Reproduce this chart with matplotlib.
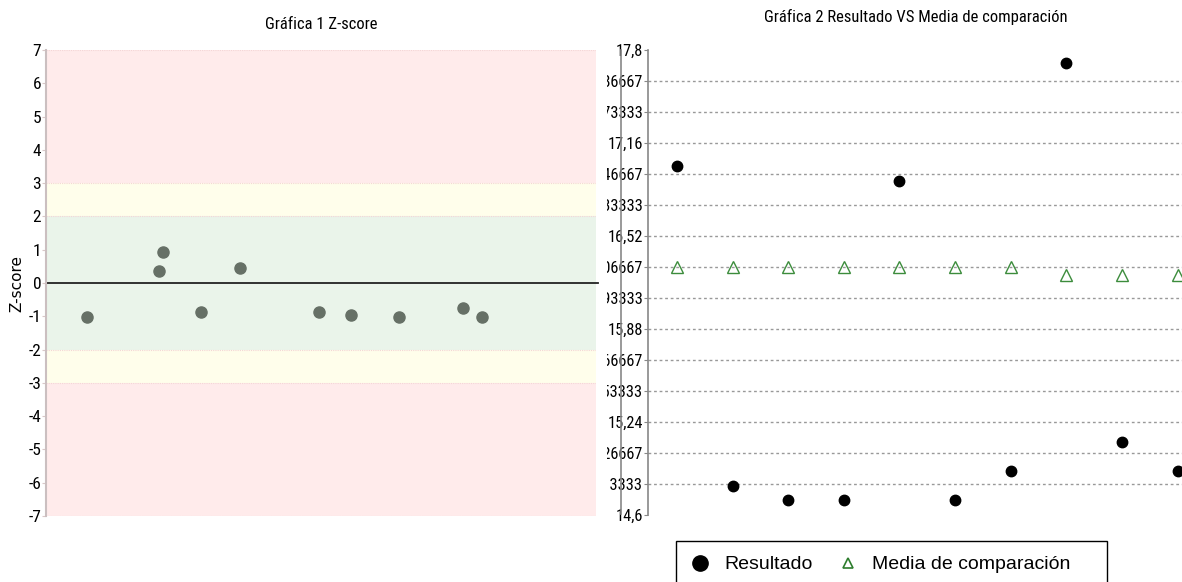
import matplotlib
matplotlib.use("Agg")
import matplotlib.pyplot as plt
from matplotlib import font_manager
from matplotlib.font_manager import FontProperties
from matplotlib.lines import Line2D
from matplotlib.transforms import Bbox, TransformedBbox

# --- data ---
z_x = [7.45, 20.5, 21.2, 28.1, 35.2, 49.6, 55.5, 64.1, 75.8, 79.3]
z_scores = [-1.02, 0.37, 0.92, -0.88, 0.45, -0.88, -0.95, -1.02, -0.75, -1.02]

categories = [1, 2, 3, 4, 5, 6, 7, 8, 9, 10]
resultado = [17.00, 14.80, 14.70, 14.70, 16.90, 14.70, 14.90, 17.71, 15.10, 14.90]
media = [16.31, 16.31, 16.31, 16.31, 16.31, 16.31, 16.31, 16.25, 16.25, 16.25]

z_ticks = list(range(-7, 8))
r_ticks = [14.6 + i * 0.64 / 3 for i in range(16)]


def fmt_tick(v):
    s = "{:.6f}".format(v).rstrip("0").rstrip(".")
    return s.replace(".", ",")


def find_narrow():
    # look for any condensed/narrow regular font file
    prefs = ["liberationsansnarrow-regular", "robotocondensed-regular",
             "opensans_condensed-regular", "opensanscondensed", "dejavusanscondensed.ttf",
             "narrow", "condensed"]
    files = [f.fname for f in font_manager.fontManager.ttflist]
    for p in prefs:
        for fn in files:
            low = fn.lower().replace(" ", "")
            if p in low and "bold" not in low and "italic" not in low and "light" not in low:
                return fn
    return None


narrow_file = find_narrow()


def narrow_font(size):
    if narrow_file:
        return FontProperties(fname=narrow_file, size=size)
    return FontProperties(family="DejaVu Sans", size=size * 0.85)


available = {f.name for f in font_manager.fontManager.ttflist}
arial = "Liberation Sans" if "Liberation Sans" in available else "DejaVu Sans"

W, H = 1182, 582
fig = plt.figure(figsize=(W / 100, H / 100), dpi=100)


def px_axes(x0, x1, ytop, ybot):
    return fig.add_axes([x0 / W, 1 - ybot / H, (x1 - x0) / W, (ybot - ytop) / H])


# --- chart 1: z-score ---
ax1 = px_axes(46, 596, 50, 516)
ax1.set_xlim(0, 100)
ax1.set_ylim(-7, 7)
bands = [(-7, -3, "#ffebeb"), (-3, -2, "#fffeeb"), (-2, 2, "#eaf4ea"),
         (2, 3, "#fffeeb"), (3, 7, "#ffebeb")]
for lo, hi, c in bands:
    ax1.axhspan(lo, hi, color=c, lw=0, zorder=0)
for y in [-7, -3, -2, 2, 3, 7]:
    ax1.axhline(y, color="#f4d6d6", lw=0.8, ls=(0, (1, 1)), zorder=1)
ax1.plot([0, 100.4], [0, 0], color="#222222", lw=1.3, zorder=2, clip_on=False)
ax1.plot(z_x, z_scores, "o", color="#667066", ms=8, zorder=3)
ax1.set_yticks(z_ticks)
ax1.set_yticklabels([str(t) for t in z_ticks], fontproperties=narrow_font(12.5))
ax1.set_xticks([])
for s in ["top", "right", "bottom"]:
    ax1.spines[s].set_visible(False)
ax1.spines["left"].set_color("#cbbfc0")
ax1.spines["left"].set_linewidth(1.5)
ax1.tick_params(axis="y", length=3, width=0.8, color="#d9c8c8", pad=0.5)
ax1.set_ylabel("Z-score", fontsize=11, labelpad=3)
ax1.set_title("Gráfica 1 Z-score", fontproperties=narrow_font(12), pad=15)

# --- chart 2: resultado vs media ---
ax2 = px_axes(648, 1182, 50, 515)
ax2.set_xlim(0.478, 10.08)
ax2.set_ylim(14.6, 17.8)
ax2.set_yticks(r_ticks)
ax2.set_yticklabels([fmt_tick(t) for t in r_ticks], fontproperties=narrow_font(11.8))
for t in r_ticks[1:-1]:
    ax2.axhline(t, color="#999999", lw=1, ls=(0, (2, 2)), zorder=1)
ax2.plot(categories, resultado, "o", color="black", ms=7.5, zorder=3, clip_on=False)
ax2.plot(categories, media, "^", mfc="none", mec="#3c8c3c", mew=1, ms=8, zorder=3,
         clip_on=False)
ax2.set_xticks([])
for s in ["top", "right", "bottom"]:
    ax2.spines[s].set_visible(False)
ax2.spines["left"].set_color("#888888")
ax2.spines["left"].set_linewidth(1.2)
ax2.tick_params(axis="y", length=3, width=0.8, color="#888888", pad=0.5)
fig.text(916 / W, 1 - 17 / H, "Gráfica 2 Resultado VS Media de comparación",
         fontproperties=narrow_font(12), ha="center", va="center")

fig.lines.append(Line2D([621 / W, 621 / W], [1 - 50 / H, 1 - 514 / H],
                        transform=fig.transFigure, color="#888888", lw=1.2, zorder=6))

# legend (its box runs past the bottom edge, as in the original)
handles = [
    Line2D([], [], ls="none", marker="o", color="black", ms=11, label="Resultado"),
    Line2D([], [], ls="none", marker="^", mfc="none", mec="#2e7d2e", mew=1.2, ms=7,
           label="Media de comparación" + "\u2007" * 2),
]
leg = fig.legend(handles=handles, ncol=2, loc="lower left",
                 bbox_to_anchor=(676 / W, 1 - 588 / H),
                 frameon=True, fancybox=False, edgecolor="black", framealpha=1,
                 prop={"family": arial, "size": 14}, handlelength=1.0,
                 handletextpad=0.75, columnspacing=1.3, borderpad=0.75,
                 borderaxespad=0)
leg.get_frame().set_linewidth(1.0)

# long tick labels of chart 2 are cut at the left, as in the original
fig.canvas.draw()
clip = TransformedBbox(Bbox.from_extents(607 / W, 0, 1, 1), fig.transFigure)
for lab in ax2.get_yticklabels():
    lab.set_clip_box(clip)
    lab.set_clip_on(True)

fig.savefig("out.png", dpi=100)
